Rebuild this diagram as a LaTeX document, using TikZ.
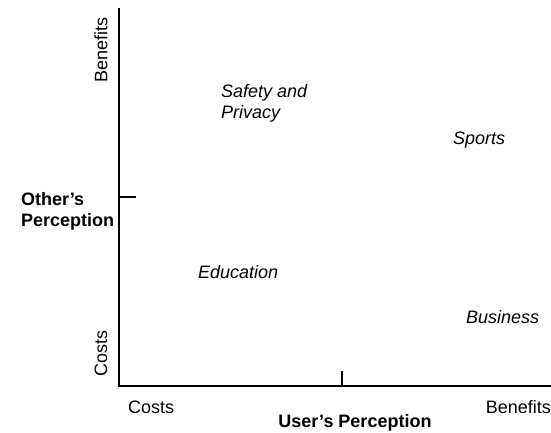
\documentclass[tikz,border=0pt]{standalone}
\usepackage{fontspec}
\setmainfont{Liberation Sans}
\begin{document}
\begin{tikzpicture}[x=1pt,y=-1pt,
  every node/.style={inner sep=0pt,font=\fontsize{18}{21}\selectfont},
  area/.style={font=\fontsize{18}{21}\selectfont\itshape,align=left},
  axistitle/.style={font=\fontsize{18}{21}\selectfont\bfseries,align=left}]
\useasboundingbox (0,0) rectangle (551,433);

\coordinate (top) at (119,8);
\coordinate (origin) at (119,386);
\coordinate (right) at (551,386);
\coordinate (ymid) at (119,197);
\coordinate (ytick) at (136,197);
\coordinate (xmid) at (342,386);
\coordinate (xtick) at (342,371);

\path[draw,line width=1.5pt] (top) -- (origin) -- (right);
\path[draw,line width=1.2pt] (ymid) -- (ytick);
\path[draw,line width=1.2pt] (xmid) -- (xtick);

\node[rotate=90] (yben) at (101,50) {Benefits};
\node[rotate=90] (ycost) at (101,353) {Costs};
\node[axistitle,anchor=west] (other) at (21,211) {Other’s\\Perception};

\node[anchor=west] (xcost) at (128,407) {Costs};
\node[anchor=east] (xben) at (551,407) {Benefits};
\node[axistitle] (user) at (355,423) {User’s Perception};

\node[area,anchor=west] (safety) at (221,103) {Safety and\\Privacy};
\node[area,anchor=west] (sports) at (453,140) {Sports};
\node[area,anchor=west] (edu) at (198,272) {Education};
\node[area,anchor=west] (business) at (466,317) {Business};
\end{tikzpicture}
\end{document}
